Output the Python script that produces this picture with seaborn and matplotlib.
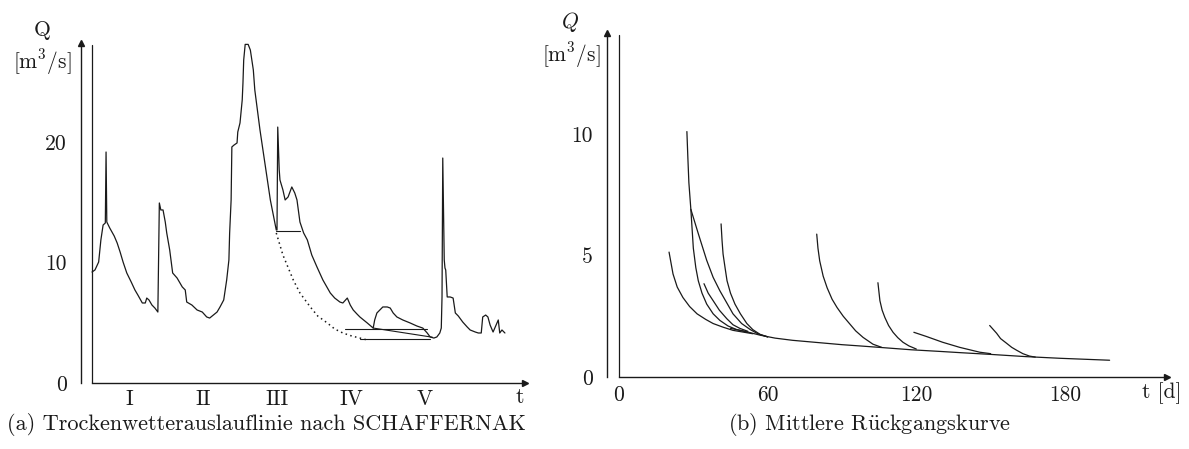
import numpy as np
import pandas as pd
import matplotlib
matplotlib.use("Agg")
import matplotlib.pyplot as plt
import seaborn as sns

# ---------------- data ----------------
# (a) hydrograph, x in interval units (I..V), Q in m3/s
hydro_x = [0.00, 0.04, 0.09, 0.12, 0.15, 0.18, 0.19, 0.20, 0.24, 0.30, 0.34, 0.38, 0.42, 0.47, 0.53,
           0.58, 0.62, 0.68, 0.72, 0.74, 0.77, 0.81, 0.85, 0.89, 0.91, 0.93, 0.96, 0.99, 1.01, 1.05,
           1.09, 1.15, 1.22, 1.26, 1.28, 1.35, 1.42, 1.49, 1.55, 1.59, 1.64, 1.69, 1.73, 1.78, 1.82,
           1.85, 1.86, 1.88, 1.89, 1.92, 1.96, 1.97, 2.00, 2.03, 2.04, 2.05, 2.07, 2.11, 2.14, 2.18,
           2.20, 2.23, 2.27, 2.31, 2.35, 2.41, 2.45, 2.49, 2.50, 2.51, 2.53, 2.54, 2.58, 2.61, 2.65,
           2.70, 2.74, 2.77, 2.81, 2.86, 2.91, 2.97, 3.04, 3.12, 3.22, 3.28, 3.35, 3.39, 3.45, 3.49,
           3.53, 3.58, 3.62, 3.72, 3.80, 3.82, 3.85, 3.89, 3.93, 3.99, 4.03, 4.07, 4.12, 4.20, 4.30,
           4.39, 4.47, 4.53, 4.57, 4.62, 4.66, 4.70, 4.72, 4.73, 4.74, 4.76, 4.77, 4.78, 4.80, 4.84,
           4.88, 4.91, 4.95, 5.01, 5.07, 5.11, 5.18, 5.22, 5.26, 5.28, 5.32, 5.35, 5.38, 5.42, 5.46,
           5.49, 5.51, 5.54, 5.58]
hydro_q = [9.21, 9.38, 10.04, 11.87, 13.11, 13.28, 19.17, 13.36, 12.86, 12.20, 11.62, 10.87, 10.04, 9.13, 8.38,
           7.72, 7.30, 6.64, 6.64, 7.05, 6.89, 6.47, 6.22, 5.89, 14.94, 14.36, 14.36, 13.36, 12.45, 11.04,
           9.13, 8.71, 7.97, 7.72, 6.72, 6.47, 6.06, 5.89, 5.48, 5.39, 5.64, 5.89, 6.31, 6.89, 8.55,
           10.21, 12.45, 15.19, 19.59, 19.75, 19.92, 20.83, 21.58, 23.49, 24.90, 26.80, 28.10, 28.10, 27.63, 25.98,
           24.32, 22.90, 21.00, 19.34, 17.68, 15.19, 13.94, 12.70, 12.70, 21.24, 17.68, 16.85, 16.02, 15.19, 15.44,
           16.27, 15.77, 15.19, 13.36, 12.45, 11.87, 10.62, 9.63, 8.55, 7.47, 7.05, 6.72, 6.64, 7.05, 6.47,
           6.06, 5.73, 5.48, 4.98, 4.56, 5.23, 5.81, 6.06, 6.31, 6.31, 6.22, 5.81, 5.48, 5.23, 4.98,
           4.73, 4.56, 4.15, 3.82, 3.73, 3.82, 4.15, 4.56, 7.14, 18.67, 10.21, 9.54, 9.38, 7.14, 7.14,
           7.05, 5.81, 5.56, 5.06, 4.65, 4.40, 4.23, 4.15, 4.15, 5.48, 5.64, 5.48, 4.81, 4.23, 4.81,
           5.23, 4.15, 4.40, 4.15]

# (a) dry-weather recession construction lines
dotted_x = [2.49, 2.58, 2.72, 2.81, 2.95, 3.05, 3.18, 3.28, 3.39, 3.51, 3.62, 3.70]
dotted_q = [12.45, 10.62, 8.55, 7.47, 6.31, 5.56, 4.98, 4.48, 4.15, 3.90, 3.73, 3.60]
aux_lines = {
    "h_III": ([2.49, 2.81], [12.6, 12.6]),
    "h_upper": ([3.42, 4.53], [4.48, 4.48]),
    "h_lower": ([3.62, 4.57], [3.65, 3.65]),
    "cont": ([3.80, 4.60], [4.56, 3.80]),
}
roman_labels = ["I", "II", "III", "IV", "V"]
left_yticks = [0, 10, 20]

# (b) recession curves, t in days, Q in m3/s
master_t = [45, 50, 57, 63, 70, 80, 90, 97, 105, 118, 130, 138, 150, 164, 178, 198]
master_q = [2.0, 1.9, 1.72, 1.6, 1.51, 1.42, 1.33, 1.28, 1.22, 1.12, 1.05, 1.0, 0.93, 0.84, 0.77, 0.69]
c1_t = [20.2, 21.8, 23.5, 25.8, 28.5, 31.5, 35, 38, 42, 46, 50, 54]
c1_q = [5.14, 4.24, 3.7, 3.27, 2.9, 2.6, 2.37, 2.2, 2.05, 1.92, 1.85, 1.78]
c2_t = [27.4, 27.8, 28.2, 29, 30, 31, 32, 33.5, 35.4, 38, 40.7, 44, 47.5, 52]
c2_q = [10.1, 9.0, 8.0, 6.9, 5.3, 4.5, 3.96, 3.45, 3.0, 2.6, 2.33, 2.1, 1.95, 1.84]
c3_t = [29, 32, 35.4, 38, 40.7, 43.5, 46, 49.5, 53, 56, 60]
c3_q = [6.9, 5.9, 4.8, 4.1, 3.55, 3.05, 2.6, 2.2, 1.95, 1.78, 1.65]
c4_t = [34.3, 36, 38, 40.5, 43.5, 46, 48.8, 52]
c4_q = [3.84, 3.45, 3.14, 2.75, 2.4, 2.15, 2.0, 1.88]
c5_t = [41.2, 41.6, 42, 42.8, 43.6, 45, 46.8, 49, 51.6, 54, 57, 60]
c5_q = [6.3, 5.6, 5.06, 4.5, 3.96, 3.45, 3.0, 2.6, 2.2, 1.95, 1.75, 1.65]
c6_t = [79.8, 80.3, 81, 82.4, 84, 86, 88, 90.5, 93, 95.5, 98.5, 102.5, 106]
c6_q = [5.88, 5.3, 4.78, 4.15, 3.67, 3.2, 2.86, 2.5, 2.2, 1.9, 1.63, 1.35, 1.22]
c7_t = [104.5, 105.3, 106.2, 107.3, 108.8, 110.6, 112.5, 114.6, 117, 120]
c7_q = [3.88, 3.14, 2.75, 2.45, 2.12, 1.84, 1.62, 1.43, 1.28, 1.15]
c8_t = [119, 124, 130.6, 137.5, 145.6, 150]
c8_q = [1.84, 1.67, 1.43, 1.22, 1.02, 0.96]
c9_t = [149.6, 152.4, 154, 156.4, 158.5, 160.5, 163, 165.7, 168]
c9_q = [2.12, 1.8, 1.58, 1.39, 1.22, 1.1, 0.96, 0.86, 0.82]
right_xticks = [0, 60, 120, 180]
right_minor = [30, 90, 150, 210]
right_yticks = [0, 5, 10]

# ---------------- style ----------------
sns.set_theme(style="white")
plt.rcParams["font.family"] = ["cmr10", "DejaVu Serif"]
plt.rcParams["mathtext.fontset"] = "cm"
plt.rcParams["axes.unicode_minus"] = False
plt.rcParams["axes.formatter.use_mathtext"] = True

W, H = 1189, 449
fig = plt.figure(figsize=(W / 100, H / 100), dpi=100)
INK = "#1a1a1a"
FS = 15.5
FSC = 16


def fx(px):
    return px / W


def fy(py):
    return 1 - py / H


def setup_axis(ax, xmax, ytop):
    for s in ["top", "right"]:
        ax.spines[s].set_visible(False)
    for s in ["left", "bottom"]:
        ax.spines[s].set_color(INK)
        ax.spines[s].set_linewidth(1.0)
    ax.spines["bottom"].set_bounds(0, xmax)
    ax.spines["left"].set_bounds(0, ytop)
    ax.plot(0, 1, marker="^", ms=4, color=INK, transform=ax.transAxes, clip_on=False)
    ax.plot(xmax, 0, marker=">", ms=4, color=INK, transform=ax.get_xaxis_transform(), clip_on=False)
    ax.axvline(0, ymin=0, ymax=0.995, color=INK, lw=0.9)
    ax.set_xlabel("")
    ax.set_ylabel("")
    ax.grid(False)


# ---------------- (a) ----------------
axA = fig.add_axes([fx(81), fy(383), fx(525) - fx(81), fy(43) - fy(383)])
sns.lineplot(x=hydro_x, y=hydro_q, sort=False, estimator=None, color=INK, lw=0.9, ax=axA, clip_on=False)
axA.plot(dotted_x, dotted_q, linestyle=(0, (1, 2.2)), color=INK, lw=1.1)
for k, (xs, qs) in aux_lines.items():
    axA.plot(xs, qs, color=INK, lw=0.8)
x0A = -(92 - 81) / 74
x1A = (525 - 92) / 74
ytopA = (383 - 43) / 12.05
axA.set_xlim(x0A, x1A)
axA.set_ylim(0, ytopA)
setup_axis(axA, x1A, ytopA)
axA.set_yticks(left_yticks)
axA.set_yticklabels([str(v) for v in left_yticks], fontsize=FS, color=INK)
axA.tick_params(axis="y", direction="out", length=3, width=0.8, pad=7, colors=INK)
axA.set_xticks([1, 2, 3, 4, 5])
axA.set_xticklabels([])
axA.set_xticks([0.5, 1.5, 2.5, 3.5, 4.5], minor=True)
axA.set_xticklabels(roman_labels, minor=True, fontsize=FS, color=INK)
axA.tick_params(axis="x", which="major", direction="in", length=3, width=0.8, colors=INK)
axA.tick_params(axis="x", which="minor", length=0, pad=5, colors=INK)

fig.text(fx(42), fy(30), "Q", fontsize=FS, ha="center", va="center", color=INK)
fig.text(fx(42), fy(62), r"[m$^3$/s]", fontsize=FS, ha="center", va="center", color=INK)
fig.text(fx(520), fy(397), "t", fontsize=FS, ha="center", va="center", color=INK)
fig.text(fx(266), fy(424), "(a) Trockenwetterauslauflinie nach SCHAFFERNAK",
         fontsize=FSC, ha="center", va="center", color=INK)

# ---------------- (b) ----------------
axB = fig.add_axes([fx(607), fy(377), fx(1167) - fx(607), fy(33) - fy(377)])
curves = {
    "master": (master_t, master_q), "c1": (c1_t, c1_q), "c2": (c2_t, c2_q), "c3": (c3_t, c3_q),
    "c4": (c4_t, c4_q), "c5": (c5_t, c5_q), "c6": (c6_t, c6_q), "c7": (c7_t, c7_q),
    "c8": (c8_t, c8_q), "c9": (c9_t, c9_q),
}
df = pd.concat([pd.DataFrame({"t": t, "Q": q, "curve": name}) for name, (t, q) in curves.items()],
               ignore_index=True)
sns.lineplot(data=df, x="t", y="Q", units="curve", estimator=None, sort=False,
             color=INK, lw=0.9, ax=axB)
pxd = (1065 - 619) / 180
x0B = -(619 - 607) / pxd
x1B = (1167 - 619) / pxd
ytopB = (377 - 33) / 24.3
axB.set_xlim(x0B, x1B)
axB.set_ylim(0, ytopB)
setup_axis(axB, x1B, ytopB)
axB.set_yticks(right_yticks)
axB.set_yticklabels([str(v) for v in right_yticks], fontsize=FS, color=INK)
axB.tick_params(axis="y", direction="out", length=3, width=0.8, pad=7, colors=INK)
axB.set_xticks(right_xticks)
axB.set_xticklabels([str(v) for v in right_xticks], fontsize=FS, color=INK)
axB.set_xticks(right_minor, minor=True)
axB.tick_params(axis="x", which="both", direction="in", length=3, width=0.8, pad=6, colors=INK)

fig.text(fx(570), fy(22), r"$Q$", fontsize=FS, ha="center", va="center", color=INK)
fig.text(fx(571), fy(55), r"[m$^3$/s]", fontsize=FS, ha="center", va="center", color=INK)
fig.text(fx(1162), fy(393), "t [d]", fontsize=FS, ha="center", va="center", color=INK)
fig.text(fx(870), fy(424), r"(b) Mittlere R$\ddot{\mathrm{u}}$ckgangskurve", fontsize=FSC,
         ha="center", va="center", color=INK)

fig.savefig("out.png", dpi=100, facecolor="white")
